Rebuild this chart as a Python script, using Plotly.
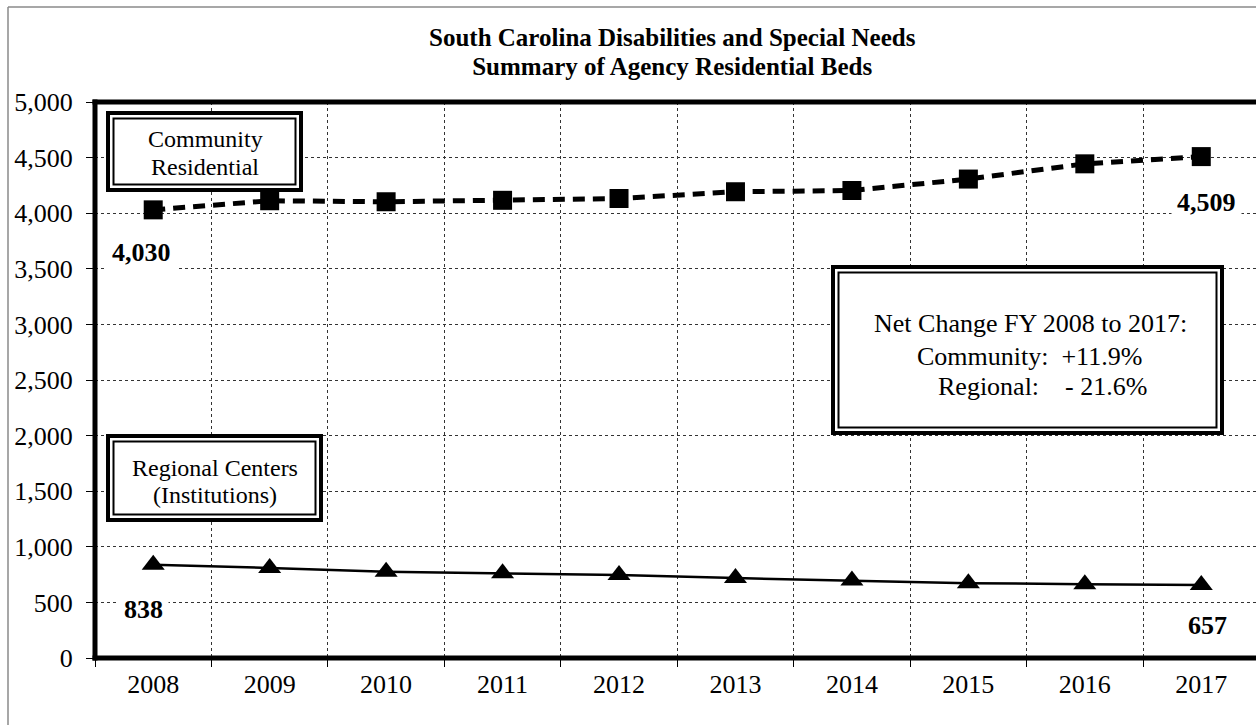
import plotly.graph_objects as go

# ---- data ----
years = ["2008", "2009", "2010", "2011", "2012", "2013", "2014", "2015", "2016", "2017"]
community = [4030, 4112, 4103, 4116, 4132, 4193, 4204, 4307, 4444, 4509]
regional = [838, 810, 775, 762, 746, 719, 698, 673, 664, 657]
y_ticks = [0, 500, 1000, 1500, 2000, 2500, 3000, 3500, 4000, 4500, 5000]

FONT = "Liberation Serif, Times New Roman, serif"
W, H = 1256, 725
L, R, T, B = 95, 0, 102, 67
PW, PH = W - L - R, H - T - B


def px(x):
    return (x - L) / PW


def py(y):
    return (H - B - y) / PH


fig = go.Figure()
fig.add_trace(go.Scatter(
    x=years, y=community, mode="lines+markers", name="Community Residential",
    line=dict(color="black", width=5, dash="12px,8px"),
    marker=dict(symbol="square", size=19, color="black"),
))
fig.add_trace(go.Scatter(
    x=years, y=regional, mode="lines+markers", name="Regional Centers",
    line=dict(color="black", width=2.5),
    marker=dict(symbol="triangle-up", size=20, color="black"),
))

shapes = []


def line(x0, y0, x1, y1, w, color="black"):
    shapes.append(dict(type="line", xref="paper", yref="paper",
                       x0=px(x0), y0=py(y0), x1=px(x1), y1=py(y1),
                       line=dict(color=color, width=w), layer="above"))


def box(x0, y0, x1, y1):
    shapes.append(dict(type="rect", xref="paper", yref="paper",
                       x0=px(x0 + 2), y0=py(y0 + 2), x1=px(x1 - 2), y1=py(y1 - 2),
                       line=dict(color="black", width=4), fillcolor="white", layer="above"))
    shapes.append(dict(type="rect", xref="paper", yref="paper",
                       x0=px(x0 + 7.5), y0=py(y0 + 7.5), x1=px(x1 - 7.5), y1=py(y1 - 7.5),
                       line=dict(color="black", width=2), layer="above"))


# page border (gray)
line(8, 7, 8, 725, 1.5, "#8a8a8a")
line(8, 7, 1260, 7, 1.5, "#8a8a8a")
# thick frame
line(95, 99.5, 95, 660.5, 5)
line(92.5, 658, 1260, 658, 5)
line(92.5, 102, 1260, 102, 5)

box(106, 111, 303, 192)
box(106, 434, 323, 522)
box(831, 265, 1224, 435)

ann = []


def text(x, y, s, size, bold=False):
    ann.append(dict(xref="paper", yref="paper", x=px(x), y=py(y), text=s, showarrow=False,
                    xanchor="center", yanchor="middle",
                    font=dict(family=FONT, size=size, color="black",
                              weight="bold" if bold else "normal")))


# title: base font sets the line spacing, text itself at 25px
ann.append(dict(
    xref="paper", yref="paper", x=px(672), y=py(52), showarrow=False,
    xanchor="center", yanchor="middle", align="center",
    text=('<span style="font-size:25px">South Carolina Disabilities and Special Needs</span><br>'
          '<span style="font-size:25px">Summary of Agency Residential Beds</span>'),
    font=dict(family=FONT, size=22, color="black", weight="bold"),
))

text(205, 139, "Community", 24)
text(205, 167, "Residential", 24)
text(214.5, 468, "Regional Centers", 24)
text(214.5, 495, "(Institutions)", 24)

text(1030, 323, "Net Change FY 2008 to 2017:", 26)
text(1029, 356, "Community:\u00a0\u00a0+11.9%", 26)
text(1042, 387, "Regional:\u00a0\u00a0\u00a0\u00a0- 21.6%", 26)


def value_label(i, series, dx, dy):
    ann.append(dict(xref="x", yref="y", x=i, y=series[i],
                    text=f"{series[i]:,}", showarrow=False,
                    xanchor="center", yanchor="middle", xshift=dx, yshift=dy,
                    bgcolor="white", borderpad=5,
                    font=dict(family=FONT, size=26, color="black", weight="bold")))


value_label(0, community, -12, -43)
value_label(9, community, 5, -46)
value_label(0, regional, -10, -45)
value_label(9, regional, 6, -41)

fig.update_layout(
    width=W, height=H,
    margin=dict(l=L, r=R, t=T, b=B, pad=0),
    paper_bgcolor="white", plot_bgcolor="white",
    showlegend=False,
    shapes=shapes, annotations=ann,
    font=dict(family=FONT, size=26, color="black"),
    xaxis=dict(type="category", range=[-0.5, 9.47], tickson="boundaries",
               ticks="outside", ticklen=8, tickwidth=1, tickcolor="black",
               showgrid=True, gridcolor="#333", gridwidth=1, griddash="dot",
               showline=False, zeroline=False,
               tickfont=dict(family=FONT, size=26, color="black"),
               ticklabelstandoff=8),
    yaxis=dict(range=[0, 5000], tickvals=y_ticks, tickformat=",",
               ticks="outside", ticklen=8, tickwidth=1, tickcolor="black",
               showgrid=True, gridcolor="#333", gridwidth=1, griddash="dot",
               showline=False, zeroline=False,
               tickfont=dict(family=FONT, size=26, color="black"),
               ticklabelstandoff=8),
)

fig.write_html("out.html")
